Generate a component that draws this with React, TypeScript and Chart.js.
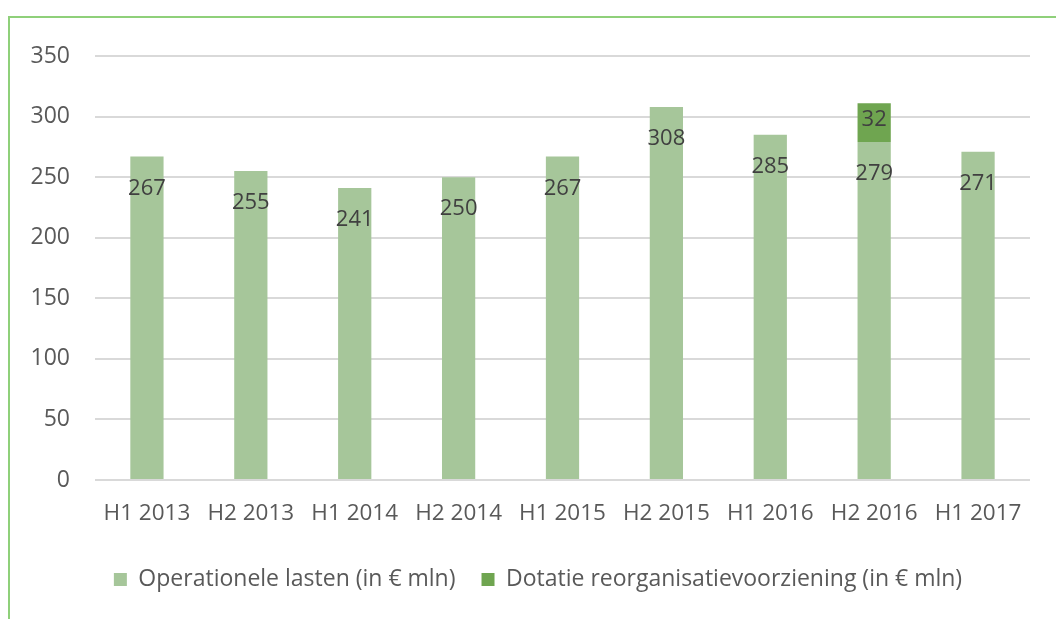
import React, { useEffect, useRef } from "react";
import { Chart, registerables } from "chart.js";

Chart.register(...registerables);

const categories = ["H1 2013", "H2 2013", "H1 2014", "H2 2014", "H1 2015", "H2 2015", "H1 2016", "H2 2016", "H1 2017"];
const operationeleLasten = [267, 255, 241, 250, 267, 308, 285, 279, 271];
const dotatie = [null, null, null, null, null, null, null, 32, null];
const seriesNames = ["Operationele lasten (in € mln)", "Dotatie reorganisatievoorziening (in € mln)"];
const yTicks = [0, 50, 100, 150, 200, 250, 300, 350];

const FONT = "'Open Sans', sans-serif";
const LIGHT = "#a6c69a";
const DARK = "#6fa550";

const labelPlugin = {
  id: "barLabels",
  afterLayout(chart: any) {
    const lg = chart.legend;
    if (lg) {
      const dx = 23;
      const dy = -5;
      lg.left += dx;
      lg.right += dx;
      lg.top += dy;
      lg.bottom += dy;
    }
  },
  afterDatasetsDraw(chart: any) {
    const ctx = chart.ctx;
    ctx.save();
    ctx.font = `22px ${FONT}`;
    ctx.fillStyle = "#404040";
    ctx.textAlign = "center";
    ctx.textBaseline = "middle";
    chart.data.datasets.forEach((ds: any, di: number) => {
      const meta = chart.getDatasetMeta(di);
      meta.data.forEach((el: any, i: number) => {
        const v = ds.data[i];
        if (v == null) return;
        let y;
        if (di === 0) y = el.y + 32;
        else y = (el.y + el.base) / 2 - 3;
        ctx.fillText(String(v), el.x, y);
      });
    });
    ctx.restore();
  },
};

export default function App() {
  const ref = useRef<HTMLCanvasElement>(null);
  useEffect(() => {
    if (!ref.current) return;
    const chart = new Chart(ref.current, {
      type: "bar",
      data: {
        labels: categories,
        datasets: [
          { label: seriesNames[0], data: operationeleLasten, backgroundColor: LIGHT, stack: "s", barPercentage: 0.32, categoryPercentage: 1 },
          { label: seriesNames[1], data: dotatie as any, backgroundColor: DARK, stack: "s", barPercentage: 0.32, categoryPercentage: 1 },
        ],
      },
      options: {
        animation: false,
        responsive: false,
        maintainAspectRatio: false,
        layout: { padding: { left: 0, right: 26, top: 56, bottom: 13 } },
        plugins: {
          tooltip: { enabled: false },
          legend: {
            position: "bottom",
            labels: {
              font: { family: FONT, size: 23 },
              color: "#595959",
              boxWidth: 13,
              boxHeight: 13,
              padding: 26,
            },
          },
        },
        scales: {
          x: {
            stacked: true,
            grid: { display: false, drawTicks: false },
            border: { display: false },
            ticks: { font: { family: FONT, size: 22.5 }, color: "#595959", padding: 20, maxRotation: 0 },
          },
          y: {
            stacked: true,
            min: 0,
            max: 350,
            afterBuildTicks(scale: any) {
              scale.ticks = yTicks.map((v) => ({ value: v }));
            },
            afterFit(scale: any) {
              scale.width = 95;
            },
            grid: { color: "#d9d9d9", lineWidth: 2, drawTicks: false },
            border: { display: false },
            ticks: { font: { family: FONT, size: 23 }, color: "#595959", padding: 25 },
          },
        },
      },
      plugins: [labelPlugin],
    });
    return () => chart.destroy();
  }, []);
  return (
    <div style={{ position: "fixed", left: 0, top: 0, width: 1056, height: 619, background: "#fff", overflow: "hidden" }}>
      <div style={{ position: "absolute", left: 8, top: 16, width: 1100, height: 700, borderLeft: "2px solid #8fd07a", borderTop: "2px solid #8fd07a" }} />
      <canvas ref={ref} width={1056} height={619} style={{ position: "absolute", left: 0, top: 0 }} />
    </div>
  );
}
